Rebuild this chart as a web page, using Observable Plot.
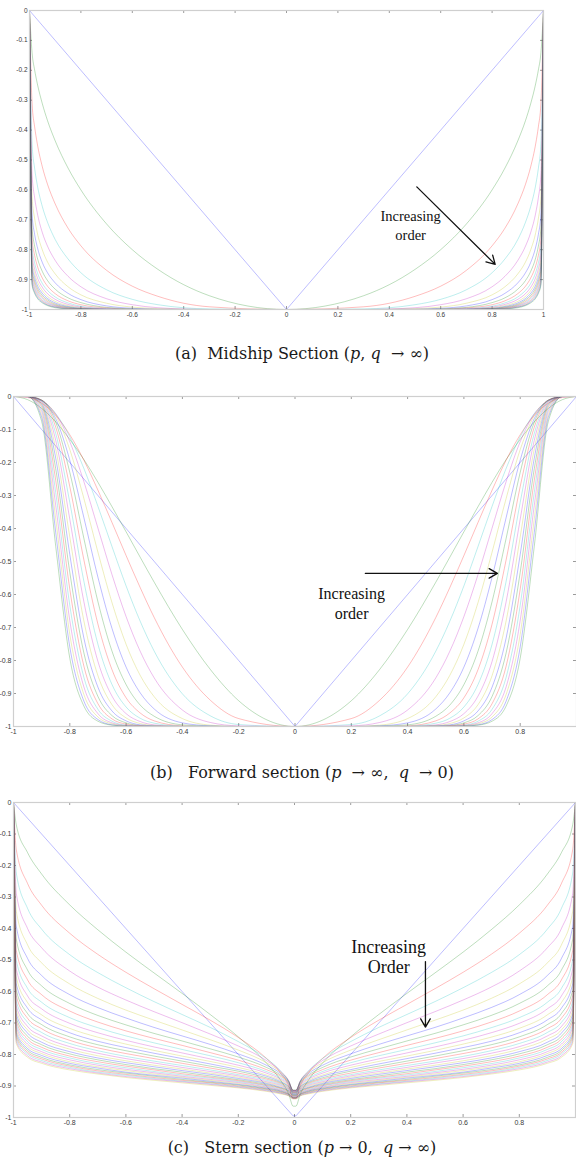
<!DOCTYPE html>
<html>
<head>
<meta charset="utf-8">
<script src="https://cdn.jsdelivr.net/npm/d3@7"></script>
<script src="https://cdn.jsdelivr.net/npm/@observablehq/plot@0.6"></script>
<style>
  html, body { margin: 0; padding: 0; background: #fff; }
  #page { position: relative; width: 576px; height: 1163px; overflow: hidden; }
  #page svg { position: absolute; left: 0; }
  .cap {
    position: absolute; left: 28px; width: 548px; text-align: center;
    font-family: "DejaVu Serif", serif; font-size: 16px; color: #1a1a1a;
    white-space: nowrap; line-height: 26px; height: 26px;
  }
</style>
</head>
<body>
<div id="page"></div>
<script>
// Section orders (1 = straight V line); the stern family runs further than the others.
const orders = [1, 2, 3, 4, 5, 6, 7, 8, 9, 10, 11, 12, 13, 14, 15, 16, 17, 18, 19, 20,
                21, 22, 23, 24, 25, 26, 27, 28, 29, 30];

// MATLAB-style colour cycle used for successive orders.
const lineColors = ["#0000ff", "#008000", "#ff0000", "#00bfbf", "#bf00bf", "#bfbf00"];

// (a) Midship section: half-breadth stations (starboard side) and depth per order.
const midshipX = [0, 0.3, 0.5, 0.6, 0.7, 0.8, 0.85, 0.9, 0.93, 0.95, 0.97, 0.98, 0.99, 1];
const midshipY = [
  [-1, -0.7, -0.5, -0.4, -0.3, -0.2, -0.15, -0.1, -0.07, -0.05, -0.03, -0.02, -0.01, 0],
  [-1, -0.954, -0.866, -0.8, -0.714, -0.6, -0.527, -0.436, -0.368, -0.312, -0.243, -0.199, -0.141, 0],
  [-1, -0.991, -0.956, -0.922, -0.869, -0.787, -0.728, -0.647, -0.581, -0.523, -0.444, -0.389, -0.310, 0],
  [-1, -0.998, -0.984, -0.966, -0.934, -0.877, -0.831, -0.766, -0.708, -0.656, -0.582, -0.528, -0.446, 0],
  [-1, -1, -0.994, -0.984, -0.964, -0.924, -0.889, -0.836, -0.788, -0.743, -0.676, -0.626, -0.547, 0],
  [-1, -1, -0.997, -0.992, -0.979, -0.951, -0.924, -0.881, -0.841, -0.801, -0.742, -0.696, -0.623, 0],
  [-1, -1, -0.999, -0.996, -0.988, -0.967, -0.946, -0.911, -0.877, -0.843, -0.790, -0.749, -0.681, 0],
  [-1, -1, -1, -0.998, -0.993, -0.977, -0.961, -0.932, -0.903, -0.873, -0.826, -0.788, -0.726, 0],
  [-1, -1, -1, -0.999, -0.995, -0.984, -0.971, -0.947, -0.922, -0.895, -0.853, -0.819, -0.762, 0],
  [-1, -1, -1, -0.999, -0.997, -0.989, -0.978, -0.958, -0.936, -0.913, -0.875, -0.844, -0.791, 0],
  [-1, -1, -1, -1, -0.998, -0.992, -0.983, -0.966, -0.947, -0.926, -0.892, -0.864, -0.814, 0],
  [-1, -1, -1, -1, -0.999, -0.994, -0.987, -0.973, -0.956, -0.937, -0.906, -0.880, -0.834, 0],
  [-1, -1, -1, -1, -0.999, -0.996, -0.990, -0.978, -0.963, -0.946, -0.918, -0.893, -0.851, 0],
  [-1, -1, -1, -1, -1, -0.997, -0.992, -0.982, -0.968, -0.953, -0.927, -0.905, -0.865, 0],
  [-1, -1, -1, -1, -1, -0.998, -0.994, -0.985, -0.973, -0.959, -0.935, -0.914, -0.877, 0],
  [-1, -1, -1, -1, -1, -0.998, -0.995, -0.987, -0.977, -0.964, -0.942, -0.923, -0.888, 0],
  [-1, -1, -1, -1, -1, -0.999, -0.996, -0.989, -0.980, -0.969, -0.948, -0.930, -0.897, 0],
  [-1, -1, -1, -1, -1, -0.999, -0.997, -0.991, -0.983, -0.972, -0.953, -0.936, -0.905, 0],
  [-1, -1, -1, -1, -1, -0.999, -0.998, -0.992, -0.985, -0.975, -0.958, -0.942, -0.912, 0],
  [-1, -1, -1, -1, -1, -0.999, -0.998, -0.994, -0.987, -0.978, -0.962, -0.946, -0.918, 0]
];

// (b) Forward section.
const forwardX = [0, 0.2, 0.3, 0.4, 0.5, 0.55, 0.6, 0.65, 0.7, 0.75, 0.8, 0.85, 0.9, 0.95, 1];
const forwardY = [
  [-1, -0.8, -0.7, -0.6, -0.5, -0.45, -0.4, -0.35, -0.3, -0.25, -0.2, -0.15, -0.1, -0.05, 0],
  [-1, -0.922, -0.828, -0.706, -0.563, -0.487, -0.410, -0.334, -0.260, -0.191, -0.130, -0.077, -0.036, -0.0095, 0],
  [-1, -0.976, -0.921, -0.820, -0.670, -0.579, -0.482, -0.382, -0.284, -0.193, -0.116, -0.057, -0.020, -0.003, 0],
  [-1, -0.994, -0.968, -0.901, -0.772, -0.681, -0.574, -0.455, -0.333, -0.218, -0.122, -0.052, -0.014, -0.001, 0],
  [-1, -0.998, -0.988, -0.950, -0.853, -0.772, -0.667, -0.540, -0.399, -0.258, -0.137, -0.053, -0.012, -0.001, 0],
  [-1, -1, -0.996, -0.976, -0.910, -0.845, -0.751, -0.625, -0.472, -0.309, -0.161, -0.058, -0.011, 0, 0],
  [-1, -1, -0.998, -0.989, -0.947, -0.898, -0.820, -0.703, -0.548, -0.367, -0.193, -0.067, -0.011, 0, 0],
  [-1, -1, -0.999, -0.995, -0.969, -0.935, -0.873, -0.772, -0.622, -0.430, -0.230, -0.078, -0.011, 0, 0],
  [-1, -1, -1, -0.998, -0.983, -0.959, -0.913, -0.828, -0.690, -0.495, -0.273, -0.093, -0.012, 0, 0],
  [-1, -1, -1, -0.999, -0.990, -0.975, -0.941, -0.873, -0.751, -0.560, -0.321, -0.112, -0.014, 0, 0],
  [-1, -1, -1, -1, -0.995, -0.985, -0.961, -0.908, -0.803, -0.622, -0.372, -0.133, -0.016, 0, 0],
  [-1, -1, -1, -1, -0.997, -0.991, -0.974, -0.934, -0.846, -0.680, -0.426, -0.159, -0.019, 0, 0],
  [-1, -1, -1, -1, -0.998, -0.995, -0.983, -0.953, -0.881, -0.732, -0.479, -0.187, -0.022, 0, 0],
  [-1, -1, -1, -1, -0.999, -0.997, -0.989, -0.967, -0.909, -0.777, -0.533, -0.219, -0.026, 0, 0],
  [-1, -1, -1, -1, -1, -0.998, -0.993, -0.977, -0.931, -0.817, -0.584, -0.254, -0.031, 0, 0],
  [-1, -1, -1, -1, -1, -0.999, -0.996, -0.984, -0.948, -0.851, -0.633, -0.291, -0.038, 0, 0],
  [-1, -1, -1, -1, -1, -0.999, -0.997, -0.989, -0.961, -0.880, -0.679, -0.330, -0.045, 0, 0],
  [-1, -1, -1, -1, -1, -1, -0.998, -0.992, -0.971, -0.903, -0.721, -0.371, -0.054, 0, 0],
  [-1, -1, -1, -1, -1, -1, -0.999, -0.995, -0.979, -0.923, -0.759, -0.412, -0.063, 0, 0],
  [-1, -1, -1, -1, -1, -1, -0.999, -0.996, -0.984, -0.938, -0.793, -0.454, -0.075, 0, 0]
];

// (c) Stern section (no station on the centreline itself).
const sternX = [0.005, 0.02, 0.05, 0.1, 0.2, 0.3, 0.4, 0.5, 0.6, 0.7, 0.8, 0.9, 0.95, 0.99, 1];
const sternY = [
  [-0.995, -0.98, -0.95, -0.9, -0.8, -0.7, -0.6, -0.5, -0.4, -0.3, -0.2, -0.1, -0.05, -0.01, 0],
  [-0.964, -0.927, -0.881, -0.827, -0.744, -0.673, -0.606, -0.541, -0.475, -0.404, -0.325, -0.227, -0.159, -0.071, 0],
  [-0.939, -0.900, -0.858, -0.812, -0.746, -0.691, -0.641, -0.591, -0.539, -0.482, -0.415, -0.326, -0.257, -0.150, 0],
  [-0.926, -0.889, -0.852, -0.813, -0.759, -0.714, -0.673, -0.632, -0.588, -0.540, -0.483, -0.402, -0.336, -0.224, 0],
  [-0.918, -0.885, -0.853, -0.819, -0.773, -0.735, -0.699, -0.664, -0.627, -0.586, -0.535, -0.461, -0.400, -0.289, 0],
  [-0.915, -0.885, -0.856, -0.826, -0.786, -0.753, -0.722, -0.691, -0.659, -0.622, -0.576, -0.509, -0.452, -0.345, 0],
  [-0.914, -0.886, -0.860, -0.834, -0.798, -0.768, -0.741, -0.714, -0.684, -0.651, -0.610, -0.549, -0.495, -0.393, 0],
  [-0.913, -0.888, -0.865, -0.841, -0.808, -0.782, -0.757, -0.733, -0.706, -0.676, -0.638, -0.582, -0.532, -0.434, 0],
  [-0.914, -0.891, -0.869, -0.848, -0.818, -0.794, -0.771, -0.749, -0.725, -0.697, -0.662, -0.610, -0.563, -0.470, 0],
  [-0.915, -0.893, -0.874, -0.854, -0.826, -0.804, -0.784, -0.763, -0.741, -0.715, -0.683, -0.634, -0.590, -0.501, 0],
  [-0.916, -0.896, -0.878, -0.859, -0.834, -0.814, -0.795, -0.776, -0.755, -0.731, -0.701, -0.655, -0.614, -0.529, 0],
  [-0.918, -0.899, -0.882, -0.865, -0.841, -0.822, -0.805, -0.787, -0.767, -0.745, -0.717, -0.674, -0.635, -0.554, 0],
  [-0.919, -0.902, -0.886, -0.869, -0.848, -0.830, -0.813, -0.796, -0.778, -0.758, -0.731, -0.690, -0.653, -0.576, 0],
  [-0.921, -0.904, -0.889, -0.874, -0.853, -0.837, -0.821, -0.805, -0.788, -0.769, -0.744, -0.705, -0.670, -0.596, 0],
  [-0.922, -0.907, -0.892, -0.878, -0.859, -0.843, -0.828, -0.813, -0.797, -0.779, -0.755, -0.718, -0.685, -0.614, 0],
  [-0.924, -0.909, -0.895, -0.882, -0.864, -0.849, -0.835, -0.821, -0.806, -0.788, -0.765, -0.730, -0.698, -0.631, 0],
  [-0.925, -0.911, -0.898, -0.886, -0.868, -0.854, -0.841, -0.827, -0.813, -0.796, -0.775, -0.741, -0.711, -0.646, 0],
  [-0.927, -0.913, -0.901, -0.889, -0.872, -0.859, -0.846, -0.834, -0.820, -0.804, -0.783, -0.751, -0.722, -0.660, 0],
  [-0.928, -0.915, -0.904, -0.892, -0.876, -0.863, -0.851, -0.839, -0.826, -0.811, -0.791, -0.761, -0.732, -0.672, 0],
  [-0.930, -0.917, -0.906, -0.895, -0.880, -0.868, -0.856, -0.845, -0.832, -0.817, -0.798, -0.769, -0.742, -0.684, 0],
  [-0.931, -0.919, -0.908, -0.898, -0.883, -0.872, -0.861, -0.849, -0.837, -0.823, -0.805, -0.777, -0.751, -0.695, 0],
  [-0.932, -0.921, -0.911, -0.900, -0.886, -0.875, -0.865, -0.854, -0.842, -0.829, -0.811, -0.784, -0.759, -0.705, 0],
  [-0.934, -0.923, -0.913, -0.903, -0.889, -0.879, -0.869, -0.858, -0.847, -0.834, -0.817, -0.791, -0.767, -0.714, 0],
  [-0.935, -0.924, -0.915, -0.905, -0.892, -0.882, -0.872, -0.862, -0.851, -0.839, -0.823, -0.797, -0.774, -0.723, 0],
  [-0.936, -0.926, -0.916, -0.907, -0.895, -0.885, -0.875, -0.866, -0.856, -0.843, -0.828, -0.803, -0.781, -0.731, 0],
  [-0.937, -0.927, -0.918, -0.909, -0.897, -0.888, -0.879, -0.869, -0.859, -0.848, -0.833, -0.809, -0.787, -0.739, 0],
  [-0.938, -0.928, -0.920, -0.911, -0.900, -0.890, -0.882, -0.873, -0.863, -0.852, -0.837, -0.814, -0.793, -0.746, 0],
  [-0.939, -0.930, -0.922, -0.913, -0.902, -0.893, -0.885, -0.876, -0.866, -0.856, -0.841, -0.819, -0.798, -0.753, 0],
  [-0.940, -0.931, -0.923, -0.915, -0.904, -0.895, -0.887, -0.879, -0.870, -0.859, -0.845, -0.824, -0.804, -0.760, 0],
  [-0.941, -0.932, -0.925, -0.917, -0.906, -0.898, -0.890, -0.882, -0.873, -0.862, -0.849, -0.828, -0.809, -0.766, 0]
];

// Axis ticks.
const xTicksFull = [-1, -0.8, -0.6, -0.4, -0.2, 0, 0.2, 0.4, 0.6, 0.8, 1];
const xTicksOpen = [-1, -0.8, -0.6, -0.4, -0.2, 0, 0.2, 0.4, 0.6, 0.8];
const yTicks = [0, -0.1, -0.2, -0.3, -0.4, -0.5, -0.6, -0.7, -0.8, -0.9, -1];

// "Increasing order" annotations (text anchor and arrow end points, data units).
const noteA = {text: "Increasing\norder", x: 0.483, y: -0.717, x1: 0.507, y1: -0.590, x2: 0.812, y2: -0.849};
const noteB = {text: "Increasing\norder", x: 0.201, y: -0.624, x1: 0.250, y1: -0.536, x2: 0.719, y2: -0.536};
const noteC = {text: "Increasing\nOrder", x: 0.335, y: -0.488, x1: 0.466, y1: -0.505, x2: 0.466, y2: -0.713};

// Mirror each starboard half to the port side and order rows by x.
function sectionRows(xs, table) {
  const rows = [];
  table.forEach((ys, i) => {
    const order = orders[i];
    for (let j = xs.length - 1; j >= 0; j--) {
      if (xs[j] === 0) continue;
      rows.push({order, x: -xs[j], y: ys[j]});
    }
    for (let j = 0; j < xs.length; j++) rows.push({order, x: xs[j], y: ys[j]});
  });
  return rows;
}

const tickLabel = (d) => String(Math.round(d * 10) / 10);
const colorOf = (d) => lineColors[(d.order - 1) % lineColors.length];

function panel({rows, note, xTicks, top, height, margin, fontSize, noteSize, noteLine}) {
  const [mt, mr, mb, ml] = margin;
  const frameH = height - mt - mb;
  const frameW = 576 - ml - mr;
  const tickLen = 3;
  const tickColor = "#9a9a9a";
  const lineStyle = {x: "x", y: "y", z: "order", stroke: colorOf, strokeWidth: 1, strokeOpacity: 0.26};
  const svg = Plot.plot({
    width: 576,
    height,
    marginTop: mt, marginRight: mr, marginBottom: mb, marginLeft: ml,
    x: {domain: [-1, 1]},
    y: {domain: [-1, 0]},
    color: {type: "identity"},
    style: {fontFamily: "'Liberation Sans', Arial, sans-serif", background: "transparent", overflow: "visible"},
    marks: [
      // inward tick marks on all four sides
      Plot.tickX(xTicks, {x: (d) => d, insetTop: frameH - tickLen, stroke: tickColor}),
      Plot.tickX(xTicks, {x: (d) => d, insetBottom: frameH - tickLen, stroke: tickColor}),
      Plot.tickY(yTicks, {y: (d) => d, insetRight: frameW - tickLen, stroke: tickColor}),
      Plot.tickY(yTicks, {y: (d) => d, insetLeft: frameW - tickLen, stroke: tickColor}),
      // order 1 is a straight V; higher orders are smooth curves
      Plot.line(rows.filter((d) => d.order === 1), {...lineStyle, curve: "linear"}),
      Plot.line(rows.filter((d) => d.order > 1), {...lineStyle, curve: "monotone-x"}),
      Plot.frame({stroke: "#cfcfcf", strokeWidth: 1.2}),
      Plot.axisX(xTicks, {anchor: "bottom", tickSize: 0, tickPadding: 3, fontSize, fill: "#3a3a3a", tickFormat: tickLabel, label: null}),
      Plot.axisY(yTicks, {anchor: "left", tickSize: 0, tickPadding: 2, fontSize, fill: "#3a3a3a", tickFormat: tickLabel, label: null}),
      Plot.arrow([note], {x1: "x1", y1: "y1", x2: "x2", y2: "y2", stroke: "#111", strokeWidth: 1.3, headLength: 11}),
      Plot.text([note], {x: "x", y: "y", text: "text", fontSize: noteSize, lineHeight: noteLine, fill: "#111",
        fontFamily: "'Liberation Serif', 'Times New Roman', serif", textAnchor: "middle"})
    ]
  });
  svg.style.top = top + "px";
  return svg;
}

function caption(html, top) {
  const div = document.createElement("div");
  div.className = "cap";
  div.style.top = top + "px";
  div.innerHTML = html;
  return div;
}

const page = document.getElementById("page");

page.appendChild(panel({
  rows: sectionRows(midshipX, midshipY), note: noteA, xTicks: xTicksFull,
  top: 0, height: 325, margin: [10, 33, 16, 29], fontSize: 6.5, noteSize: 14.5, noteLine: 1.3
}));
page.appendChild(caption("(a)&nbsp; Midship Section (<i>p</i>, <i>q</i> &nbsp;→ ∞)", 341));

page.appendChild(panel({
  rows: sectionRows(forwardX, forwardY), note: noteB, xTicks: xTicksOpen,
  top: 384, height: 356, margin: [12, 0, 14, 13], fontSize: 7, noteSize: 16, noteLine: 1.25
}));
page.appendChild(caption("(b)&nbsp;&nbsp; Forward section (<i>p</i> &nbsp;→ ∞,&nbsp; <i>q</i> &nbsp;→ 0)", 760));

page.appendChild(panel({
  rows: sectionRows(sternX, sternY), note: noteC, xTicks: xTicksOpen,
  top: 790, height: 340, margin: [12, 1, 13, 13], fontSize: 7, noteSize: 18, noteLine: 1.15
}));
page.appendChild(caption("(c)&nbsp;&nbsp; Stern section (<i>p</i> → 0,&nbsp; <i>q</i> → ∞)", 1135));
</script>
</body>
</html>
